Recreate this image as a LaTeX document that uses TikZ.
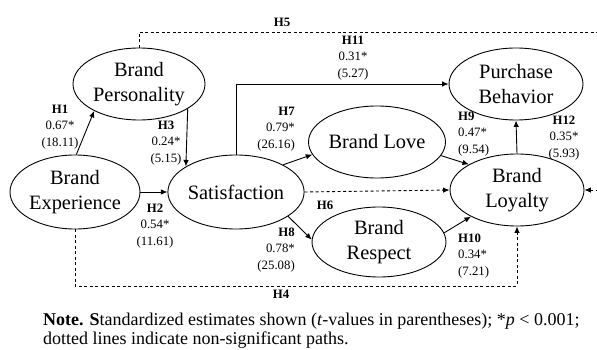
\documentclass[tikz,border=0pt]{standalone}
\usepackage{fontspec}
\setmainfont{Liberation Serif}
\usetikzlibrary{shapes.geometric,arrows.meta,calc}
\begin{document}
\begin{tikzpicture}[x=1pt,y=-1pt,
 lat/.style={ellipse,draw,line width=0.9pt,inner sep=0pt,align=center,font=\fontsize{20.4}{25}\selectfont},
 lbl/.style={inner sep=0pt,font=\fontsize{12.8}{16.2}\selectfont},
 arr/.style={line width=0.9pt,-{Latex[length=6.5pt,width=5.5pt]}},
 darr/.style={arr,dash pattern=on 3pt off 2.5pt},
]
\useasboundingbox (0,0) rectangle (597,350);
\clip (0,0) rectangle (597,350);

% latent constructs
\node[lat,minimum width=132pt,minimum height=72pt] (pers) at (139,84) {Brand\\Personality};
\node[lat,minimum width=130pt,minimum height=74pt] (exp) at (75,192) {Brand\\Experience};
\node[lat,minimum width=132pt,minimum height=74pt] (sat) at (236,192) {Satisfaction};
\node[lat,minimum width=134pt,minimum height=72pt] (love) at (377,142) {Brand Love};
\node[lat,minimum width=134pt,minimum height=70pt] (resp) at (379,242) {Brand\\Respect};
\node[lat,minimum width=134pt,minimum height=72pt] (loy) at (517,190) {Brand\\Loyalty};
\node[lat,minimum width=134pt,minimum height=72pt] (pb) at (516,84) {Purchase\\Behavior};

% helper coordinates
\coordinate (h5a) at (138,32);
\coordinate (h5r) at (612,32);
\coordinate (h5b) at (612,190);
\coordinate (h4y) at (0,286);

% paths
\draw[arr] (exp.88) -- (pers.211);
\draw[arr] (pers.-27) -- (sat.153);
\draw[arr] (exp.east) -- (sat.west);
\draw[arr] (sat.north) |- (pb.west);
\draw[arr] (sat.30) -- (love.191);
\draw[arr] (sat.-25) -- (resp.178);
\draw[darr] (sat.east) -- (loy.west);
\draw[arr] (love.-12) -- (loy.152);
\draw[arr] (resp.8) -- (loy.210);
\draw[arr] (loy.north) -- (pb.south);
\draw[darr] (exp.south) -- (exp.south |- h4y) -| (loy.south);
\draw[darr] (pers.north) -- (pers.north |- h5a) -- (h5r) -- (h5b) -- (loy.east);

% labels
\node[lbl] (l5) at (282,22) {\textbf{H5}};
\node[lbl,align=center] (l11) at (353,58) {\textbf{H11}\\0.31*\\(5.27)};
\node[lbl,align=center] (l1) at (60,127) {\textbf{H1}\\0.67*\\(18.11)};
\node[lbl,align=center] (l3) at (166,143) {\textbf{H3}\\0.24*\\(5.15)};
\node[lbl,align=right,anchor=east] (l7) at (295,129) {\textbf{H7}\\0.79*\\(26.16)};
\node[lbl,align=left,anchor=west] (l9) at (458,134) {\textbf{H9}\\0.47*\\(9.54)};
\node[lbl,align=center] (l12) at (564,138) {\textbf{H12}\\0.35*\\(5.93)};
\node[lbl,align=center] (l2) at (155,226) {\textbf{H2}\\0.54*\\(11.61)};
\node[lbl,align=right,anchor=east] (l8) at (295,250) {\textbf{H8}\\0.78*\\(25.08)};
\node[lbl] (l6) at (325,205) {\textbf{H6}};
\node[lbl,align=left,anchor=west] (l10) at (458,256) {\textbf{H10}\\0.34*\\(7.21)};
\node[lbl] (l4) at (281,294) {\textbf{H4}};

% note
\node[anchor=base west,inner sep=0pt,font=\fontsize{18}{19}\selectfont] (note) at (43,325)
 {\begin{tabular}[t]{@{}l@{}}\textbf{Note. S}tandardized estimates shown (\textit{t}-values in parentheses); *\textit{p} < 0.001;\\
  dotted lines indicate non-significant paths.\end{tabular}};
\end{tikzpicture}
\end{document}
